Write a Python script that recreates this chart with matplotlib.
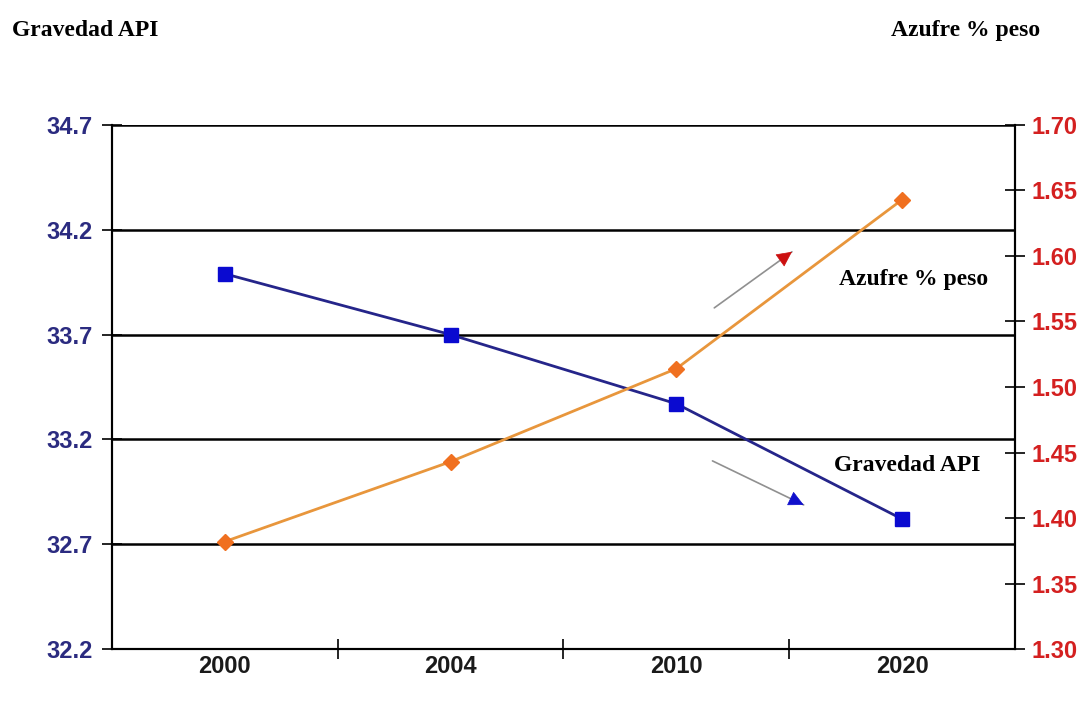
import numpy as np
import matplotlib.pyplot as plt

# Datos: gravedad API y contenido de azufre del crudo
anios = ["2000", "2004", "2010", "2020"]
gravedad_api = [33.99, 33.70, 33.37, 32.82]
azufre_peso = [1.382, 1.443, 1.514, 1.643]

api_ticks = [32.2, 32.7, 33.2, 33.7, 34.2, 34.7]
azufre_ticks = [1.30, 1.35, 1.40, 1.45, 1.50, 1.55, 1.60, 1.65, 1.70]

plt.rcParams["font.family"] = ["Liberation Sans", "DejaVu Sans"]

fig = plt.figure(figsize=(10.86, 7.03), dpi=100)
ax = fig.add_axes([0.1031, 0.0768, 0.8315, 0.7454])
ax2 = ax.twinx()

x = np.arange(len(anios))

# Serie de gravedad API (eje izquierdo)
ax.plot(x, gravedad_api, color="#25258a", lw=2, zorder=3)
ax.plot(x, gravedad_api, ls="none", marker="s", ms=10, color="#0a0ad0", zorder=4)
ax.set_ylim(32.2, 34.7)
ax.set_yticks(api_ticks)
ax.set_yticklabels([f"{v:.1f}" for v in api_ticks], color="#2b2b80", fontweight="bold")
ax.set_xlim(-0.5, len(anios) - 0.5)
ax.set_xticks(x)
ax.set_xticklabels(anios, fontweight="bold", color="#1a1a1a")
ax.set_xticks(x[:-1] + 0.5, minor=True)
ax.tick_params(axis="x", which="major", length=0, pad=4, labelsize=17)
ax.tick_params(axis="x", which="minor", length=14, direction="inout", width=1.2)
ax.tick_params(axis="y", length=14, direction="inout", width=1.2, labelsize=17, pad=7)
ax.grid(axis="y", color="black", lw=1.8)
ax.set_axisbelow(True)

# Serie de azufre (eje derecho)
ax2.plot(x, azufre_peso, color="#e8963c", lw=2, zorder=3)
ax2.plot(x, azufre_peso, ls="none", marker="D", ms=8.5, color="#f07020", zorder=4)
ax2.set_ylim(1.30, 1.70)
ax2.set_yticks(azufre_ticks)
ax2.set_yticklabels([f"{v:.2f}" for v in azufre_ticks], color="#d42020", fontweight="bold")
ax2.tick_params(axis="y", length=14, direction="inout", width=1.2, labelsize=17, pad=5)

for a in (ax, ax2):
    a.spines["top"].set_visible(False)
    for s in ("left", "right", "bottom"):
        a.spines[s].set_linewidth(1.5)


def flecha(inicio, fin, color_punta):
    # trazo gris con punta triangular de color
    ax.annotate("", xy=fin, xytext=inicio, xycoords="axes fraction",
                arrowprops=dict(arrowstyle="-", color="#909090", lw=1.2,
                                shrinkA=0, shrinkB=0))
    dx, dy = fin[0] - inicio[0], fin[1] - inicio[1]
    base = (fin[0] - 0.1 * dx, fin[1] - 0.1 * dy)
    ax.annotate("", xy=fin, xytext=base, xycoords="axes fraction",
                arrowprops=dict(arrowstyle="-|>,head_length=0.9,head_width=0.45",
                                fc=color_punta, ec=color_punta, lw=0.5,
                                mutation_scale=11, shrinkA=0, shrinkB=0))


flecha((0.667, 0.651), (0.753, 0.758), "#cc1010")
flecha((0.665, 0.359), (0.766, 0.275), "#1010cc")

serif = ["Liberation Serif", "DejaVu Serif"]
ax.text(0.805, 0.706, "Azufre % peso", transform=ax.transAxes, family=serif,
        fontsize=17, fontweight="bold", va="center", ha="left")
ax.text(0.8, 0.351, "Gravedad API", transform=ax.transAxes, family=serif,
        fontsize=17, fontweight="bold", va="center", ha="left")
fig.text(0.011, 0.957, "Gravedad API", family=serif, fontsize=17,
         fontweight="bold", va="center", ha="left")
fig.text(0.958, 0.957, "Azufre % peso", family=serif, fontsize=17,
         fontweight="bold", va="center", ha="right")

fig.savefig("out.png", dpi=100)
